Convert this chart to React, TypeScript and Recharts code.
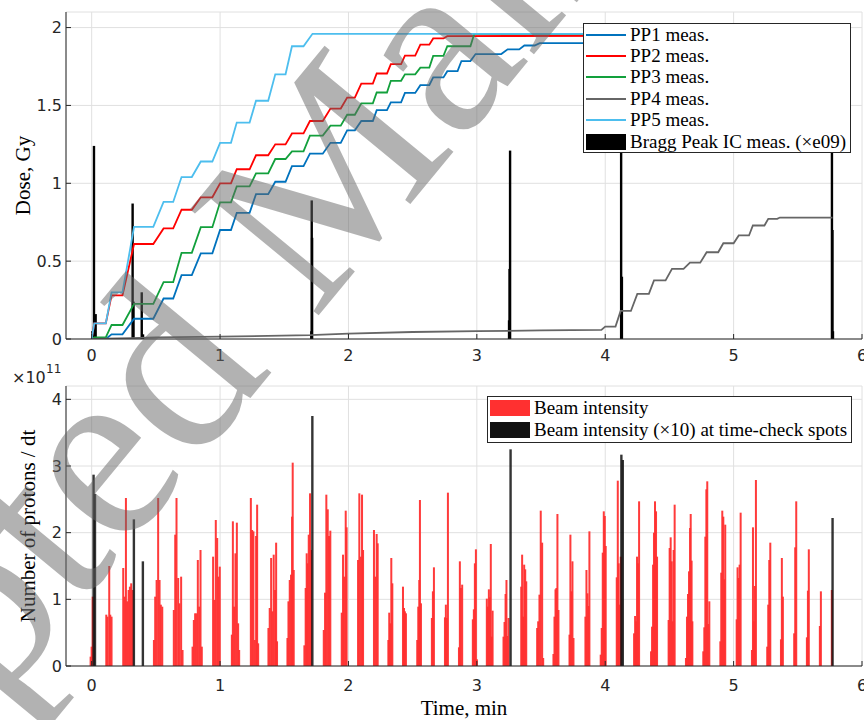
import React from 'react'
import { ComposedChart, Line, Bar, XAxis, YAxis, CartesianGrid, Legend } from 'recharts'

const SANS = '"DejaVu Sans", "Liberation Sans", sans-serif'
const SERIF = '"Liberation Serif", "Times New Roman", serif'
const INK = '#262626'
const GRID = '#e0e0e0'

const TIME_DOMAIN = [-0.2, 6]
const TIME_TICKS = [0, 1, 2, 3, 4, 5, 6]
const DOSE_DOMAIN = [0, 2.1]
const DOSE_TICKS = [0, 0.5, 1, 1.5, 2]
const BEAM_DOMAIN = [0, 4.2]
const BEAM_TICKS = [0, 1, 2, 3, 4]

// measured dose, [time (min), dose (Gy)] at the corners of each step
const pp1 = [
  [0, 0], [0.11, 0], [0.155, 0.03], [0.24, 0.03], [0.33, 0.13], [0.48, 0.13], [0.56, 0.26],
  [0.635, 0.26], [0.7, 0.41], [0.78, 0.41], [0.85, 0.55], [0.94, 0.55], [1.0, 0.7],
  [1.085, 0.7], [1.13, 0.81], [1.23, 0.81], [1.28, 0.93], [1.375, 0.93], [1.43, 1.01],
  [1.51, 1.01], [1.56, 1.11], [1.65, 1.11], [1.7, 1.19], [1.8, 1.19], [1.86, 1.26],
  [1.94, 1.26], [1.99, 1.34], [2.05, 1.34], [2.1, 1.4], [2.19, 1.4], [2.22, 1.47],
  [2.3, 1.47], [2.33, 1.52], [2.41, 1.52], [2.44, 1.58], [2.52, 1.58], [2.56, 1.63],
  [2.63, 1.63], [2.66, 1.68], [2.74, 1.68], [2.77, 1.72], [2.85, 1.72], [2.88, 1.785],
  [2.95, 1.785], [2.99, 1.83], [3.19, 1.83], [3.24, 1.86], [3.33, 1.86], [3.37, 1.885],
  [3.45, 1.885], [3.49, 1.9], [5.77, 1.9],
]
const pp2 = [
  [0, 0], [0.02, 0.1], [0.11, 0.1], [0.155, 0.28], [0.24, 0.28], [0.33, 0.61], [0.48, 0.61],
  [0.56, 0.71], [0.635, 0.71], [0.7, 0.83], [0.78, 0.83], [0.85, 0.91], [0.94, 0.91],
  [1.0, 1.0], [1.085, 1.0], [1.13, 1.09], [1.23, 1.09], [1.28, 1.18], [1.375, 1.18],
  [1.43, 1.25], [1.51, 1.25], [1.56, 1.32], [1.65, 1.32], [1.7, 1.4], [1.8, 1.4],
  [1.86, 1.48], [1.94, 1.48], [1.99, 1.55], [2.05, 1.55], [2.1, 1.64], [2.19, 1.64],
  [2.22, 1.705], [2.3, 1.705], [2.33, 1.765], [2.41, 1.765], [2.44, 1.82], [2.52, 1.82],
  [2.56, 1.89], [2.63, 1.89], [2.66, 1.93], [2.74, 1.93], [2.77, 1.945], [5.77, 1.95],
]
const pp3 = [
  [0, 0], [0.02, 0.01], [0.11, 0.01], [0.155, 0.09], [0.24, 0.09], [0.33, 0.226],
  [0.48, 0.226], [0.56, 0.365], [0.635, 0.365], [0.7, 0.553], [0.78, 0.553], [0.85, 0.718],
  [0.94, 0.718], [1.0, 0.878], [1.085, 0.878], [1.13, 0.98], [1.23, 0.98], [1.28, 1.064],
  [1.375, 1.064], [1.43, 1.156], [1.51, 1.156], [1.56, 1.205], [1.65, 1.205], [1.7, 1.306],
  [1.8, 1.306], [1.86, 1.37], [1.94, 1.37], [1.99, 1.44], [2.05, 1.44], [2.1, 1.513],
  [2.19, 1.513], [2.22, 1.583], [2.3, 1.583], [2.33, 1.658], [2.41, 1.658], [2.44, 1.7],
  [2.52, 1.7], [2.56, 1.743], [2.63, 1.743], [2.66, 1.818], [2.74, 1.818], [2.77, 1.88],
  [2.95, 1.88], [2.98, 1.96], [5.77, 1.96],
]
const pp4 = [
  [0, 0], [0.3, 0.005], [0.5, 0.01], [1.0, 0.015], [1.7, 0.025], [2.0, 0.035], [2.5, 0.045],
  [3.0, 0.05], [3.5, 0.055], [3.97, 0.058], [4.0, 0.08], [4.08, 0.08], [4.12, 0.18],
  [4.2, 0.18], [4.25, 0.29], [4.34, 0.29], [4.38, 0.376], [4.47, 0.376], [4.52, 0.45],
  [4.61, 0.45], [4.66, 0.49], [4.74, 0.49], [4.79, 0.557], [4.88, 0.557], [4.92, 0.615],
  [5.0, 0.615], [5.04, 0.665], [5.12, 0.665], [5.15, 0.729], [5.24, 0.729], [5.27, 0.772],
  [5.34, 0.772], [5.36, 0.78], [5.77, 0.78],
]
const pp5 = [
  [0, 0], [0.02, 0.1], [0.11, 0.1], [0.155, 0.3], [0.24, 0.3], [0.33, 0.72], [0.48, 0.72],
  [0.56, 0.88], [0.635, 0.88], [0.7, 1.04], [0.78, 1.04], [0.85, 1.14], [0.94, 1.14],
  [1.0, 1.26], [1.085, 1.26], [1.13, 1.39], [1.23, 1.39], [1.28, 1.53], [1.375, 1.53],
  [1.43, 1.7], [1.51, 1.7], [1.56, 1.88], [1.65, 1.88], [1.72, 1.96], [5.77, 1.96],
]

const DOSE_NAMES = ['PP1 meas.', 'PP2 meas.', 'PP3 meas.', 'PP4 meas.', 'PP5 meas.']
const DOSE_COLORS = ['#0072BD', '#FF0000', '#12A03C', '#666666', '#4DBEEE']
const DOSE_CURVES = [pp1, pp2, pp3, pp4, pp5]

// Bragg peak ionisation chamber (x e09)
const braggT = [0.005, 0.018, 0.031, 0.319, 0.326, 0.39, 0.4, 1.711, 1.714, 1.717, 3.251, 3.255, 3.259, 4.124, 4.13, 5.766, 5.77, 5.774]
const braggV = [0.05, 1.24, 0.16, 0.87, 0.24, 0.3, 0.03, 0.05, 0.89, 0.65, 0.12, 0.45, 1.21, 1.45, 0.4, 1.45, 0.7, 0.05]
const BRAGG_NAME = 'Bragg Peak IC meas. (\u00d7e09)'

// beam intensity, protons per dt in units of 1e11
const beamT = [
  -0.008, 0.0, 0.008,
  0.114, 0.124, 0.137, 0.145, 0.155,
  0.246, 0.257, 0.267, 0.277, 0.288, 0.298, 0.308, 0.319,
  0.485, 0.495, 0.506, 0.518, 0.529, 0.539, 0.55,
  0.64, 0.651, 0.661, 0.674, 0.684, 0.697, 0.708,
  0.786, 0.796, 0.806, 0.817, 0.827, 0.838, 0.848, 0.858,
  0.946, 0.957, 0.967, 0.978, 0.988, 0.998,
  1.092, 1.1, 1.11, 1.12, 1.131, 1.141, 1.149,
  1.24, 1.25, 1.26, 1.271, 1.281, 1.289, 1.297,
  1.377, 1.387, 1.398, 1.408, 1.418, 1.429, 1.437, 1.444,
  1.525, 1.533, 1.543, 1.553, 1.561, 1.566, 1.574,
  1.657, 1.667, 1.675, 1.683, 1.691, 1.701, 1.709,
  1.808, 1.818, 1.828, 1.839, 1.849, 1.859,
  1.948, 1.958, 1.968, 1.979, 1.986,
  2.075, 2.085, 2.095, 2.106, 2.114,
  2.199, 2.21, 2.22, 2.228,
  2.311, 2.318, 2.326, 2.334, 2.342,
  2.425, 2.433, 2.44, 2.448,
  2.536, 2.544, 2.552, 2.557, 2.565,
  2.65, 2.658, 2.666,
  2.752, 2.759, 2.767, 2.775,
  2.861, 2.868, 2.876, 2.886,
  2.969, 2.977, 2.985, 2.993, 3.001,
  3.078, 3.086, 3.094, 3.102, 3.109, 3.117, 3.123,
  3.208, 3.216, 3.224, 3.231, 3.239, 3.247,
  3.346, 3.353, 3.361, 3.369, 3.377, 3.385,
  3.47, 3.478, 3.488, 3.498, 3.509, 3.517,
  3.597, 3.605, 3.613, 3.62, 3.628, 3.636,
  3.722, 3.729, 3.737, 3.745, 3.753,
  3.846, 3.854, 3.862, 3.87, 3.877,
  3.965, 3.973, 3.981, 3.989, 3.997, 4.004,
  4.09, 4.098, 4.105, 4.113, 4.121,
  4.225, 4.233, 4.24, 4.248, 4.256, 4.264,
  4.357, 4.365, 4.373, 4.38, 4.388, 4.396, 4.404,
  4.494, 4.502, 4.51, 4.518, 4.526, 4.533, 4.541,
  4.629, 4.637, 4.645, 4.653, 4.661, 4.666, 4.673, 4.679,
  4.764, 4.772, 4.78, 4.788, 4.795, 4.803, 4.811,
  4.897, 4.904, 4.912, 4.92, 4.928, 4.935,
  5.024, 5.031, 5.039, 5.047, 5.055,
  5.143, 5.151, 5.158, 5.166, 5.174,
  5.262, 5.27, 5.278, 5.286,
  5.369, 5.376, 5.384,
  5.472, 5.48, 5.488,
  5.571, 5.579, 5.586,
  5.672, 5.68,
  5.765,
]
const beamN = [
  0.14, 0.29, 1.04,
  0.77, 0.74, 1.5, 0.77, 0.74,
  1.47, 1.04, 2.52, 0.97, 1.14, 1.19, 1.24, 1.14,
  0.39, 1.04, 1.29, 2.52, 1.29, 0.92, 0.89,
  0.84, 1.97, 2.52, 1.32, 0.94, 1.34, 0.24,
  0.29, 0.69, 0.79, 0.79, 1.59, 0.89, 1.74, 0.29,
  1.64, 0.99, 2.19, 1.92, 1.34, 1.49,
  0.47, 2.17, 0.89, 1.69, 2.15, 0.64, 0.24,
  2.52, 2.04, 2.02, 0.39, 1.95, 2.42, 0.34,
  0.57, 0.87, 1.62, 0.82, 1.67, 1.14, 1.85, 0.37,
  0.42, 0.97, 1.29, 1.37, 2.24, 3.05, 1.44,
  0.31, 1.17, 1.69, 1.54, 1.97, 2.59, 1.74,
  0.54, 1.1, 2.57, 2.35, 1.95, 2.03,
  0.8, 1.67, 1.34, 2.33, 2.08,
  1.59, 2.59, 1.64, 2.57, 1.74,
  2.04, 1.34, 1.98, 1.84,
  0.39, 0.8, 0.64, 1.62, 1.24,
  1.19, 0.87, 0.82, 0.79,
  0.39, 0.89, 1.29, 2.49, 0.94,
  0.72, 1.12, 1.48,
  0.73, 0.92, 0.72, 2.6,
  0.28, 1.57, 1.17, 1.22,
  0.7, 0.85, 1.54, 1.75, 0.1,
  1.01, 0.89, 1.15, 1.03, 1.83, 0.44, 0.83,
  0.44, 0.66, 1.08, 1.29, 0.45, 0.72,
  1.19, 1.67, 0.74, 1.52, 1.45, 1.27,
  0.57, 0.67, 1.07, 2.33, 1.85, 0.12,
  0.18, 0.74, 1.15, 1.17, 2.28, 0.84,
  0.47, 1.97, 1.12, 1.57, 0.42,
  0.74, 1.44, 1.09, 0.9, 2.02,
  0.17, 0.57, 1.7, 2.32, 2.25, 1.8,
  1.33, 2.78, 1.54, 0.92, 1.64,
  0.49, 0.75, 0.67, 1.64, 1.54, 2.47,
  0.22, 0.59, 1.52, 2.0, 2.47, 2.32, 1.64,
  0.69, 1.77, 1.93, 1.57, 0.67, 1.74, 2.42,
  0.12, 0.74, 1.08, 1.42, 2.07, 2.28, 1.58, 0.67,
  0.22, 0.58, 1.94, 2.65, 2.77, 0.63, 0.97,
  0.37, 1.4, 2.33, 2.24, 1.3, 2.12,
  0.7, 1.48, 1.32, 1.52, 2.3,
  0.24, 2.08, 0.67, 1.2, 2.79,
  0.29, 0.92, 1.59, 1.85,
  0.4, 1.62, 1.04,
  0.49, 1.78, 2.47,
  0.43, 1.13, 1.75,
  0.6, 1.12,
  1.14,
]
// beam intensity (x10) at the time-check spots
const checkT = [0.015, 0.026, 0.329, 0.399, 1.719, 3.263, 4.126, 4.137, 5.771]
const checkN = [2.87, 2.58, 2.2, 1.57, 3.75, 3.25, 3.17, 3.09, 2.22]
const BEAM_NAMES = ['Beam intensity', 'Beam intensity (\u00d710) at time-check spots']
const BEAM_COLORS = ['#FF3030', '#111111']

const braggRows = braggT.map((t, i) => ({ t, bragg: braggV[i] }))
const beamRows = [
  ...beamT.map((t, i) => ({ t, beam: beamN[i] })),
  ...checkT.map((t, i) => ({ t, check: checkN[i] })),
].sort((a, b) => a.t - b.t)

const tickStyle = { fill: INK, fontSize: 16, fontFamily: SANS }
const noLabel = () => <g />

// the bars sit on a numeric time axis, so draw each one as a thin spike at its centre
const spike = (w: number) => (p: any) => {
  if (!(p.height > 0)) return <g />
  return <rect x={p.x + p.width / 2 - w / 2} y={p.y} width={w} height={p.height} fill={p.fill} fillOpacity={p.fillOpacity} />
}

const yTitle = (text: string, dx: number) => (props: any) => {
  const vb = props.viewBox
  const x = vb.x + dx
  const y = vb.y + vb.height / 2
  return (
    <text x={x} y={y} transform={`rotate(-90 ${x} ${y})`} textAnchor='middle' fill='#000' fontFamily={SERIF} fontSize={21}>
      {text}
    </text>
  )
}

const xTitle = (text: string, dy: number) => (props: any) => {
  const vb = props.viewBox
  return (
    <text x={vb.x + vb.width / 2} y={vb.y + dy} textAnchor='middle' fill='#000' fontFamily={SERIF} fontSize={21}>
      {text}
    </text>
  )
}

function LegendBox({ names, colors, swatch, rowH }: { names: string[]; colors: string[]; swatch: string[]; rowH: number }) {
  return (
    <div style={{ background: '#fff', border: `1px solid ${INK}`, fontFamily: SERIF, fontSize: 19, color: '#000', whiteSpace: 'nowrap', paddingRight: 4 }}>
      {names.map((n, i) => (
        <div key={n} style={{ display: 'flex', alignItems: 'center', height: rowH }}>
          <span style={{ display: 'inline-block', width: 40, height: swatch[i] === 'rect' ? 16 : 2, background: colors[i], marginLeft: 2, marginRight: 4 }} />
          <span>{n}</span>
        </div>
      ))}
    </div>
  )
}

function DosePanel() {
  return (
    <ComposedChart width={864} height={372} data={braggRows} margin={{ top: 12, right: 2, bottom: 0, left: 0 }}>
      <CartesianGrid stroke={GRID} strokeWidth={1} />
      <XAxis dataKey='t' type='number' domain={TIME_DOMAIN} ticks={TIME_TICKS} allowDataOverflow interval={0}
        height={33} tickSize={-5} tickMargin={16} stroke={INK} tick={tickStyle} />
      <XAxis xAxisId='top' orientation='top' type='number' domain={TIME_DOMAIN} ticks={TIME_TICKS} allowDataOverflow
        height={0} tickSize={-5} stroke={INK} tick={noLabel} />
      <YAxis type='number' domain={DOSE_DOMAIN} ticks={DOSE_TICKS} allowDataOverflow interval={0} width={66}
        tickSize={-5} tickMargin={9} stroke={INK} tick={tickStyle}
        label={{ value: 'Dose, Gy', content: yTitle('Dose, Gy', 30) }} />
      <YAxis yAxisId='right' orientation='right' type='number' domain={DOSE_DOMAIN} ticks={DOSE_TICKS} allowDataOverflow
        width={0} tickSize={-5} stroke={INK} tick={noLabel} />
      {DOSE_CURVES.map((pts, i) => (
        <Line key={DOSE_NAMES[i]} name={DOSE_NAMES[i]} data={pts.map(([t, d]) => ({ t, dose: d }))} dataKey='dose'
          type='linear' stroke={DOSE_COLORS[i]} strokeWidth={1.8} dot={false} isAnimationActive={false} />
      ))}
      <Bar dataKey='bragg' name={BRAGG_NAME} fill='#000' barSize={2} shape={spike(2.4)} isAnimationActive={false} />
      <Legend layout='vertical' align='center' verticalAlign='middle'
        wrapperStyle={{ position: 'absolute', left: 583, top: 23, width: 'auto', height: 'auto' }}
        content={() => (
          <LegendBox names={[...DOSE_NAMES, BRAGG_NAME]} colors={[...DOSE_COLORS, '#000']}
            swatch={['line', 'line', 'line', 'line', 'line', 'rect']} rowH={21.4} />
        )} />
    </ComposedChart>
  )
}

function BeamPanel() {
  return (
    <ComposedChart width={864} height={360} data={beamRows} margin={{ top: 26, right: 2, bottom: 0, left: 0 }}>
      <CartesianGrid stroke={GRID} strokeWidth={1} />
      <XAxis dataKey='t' type='number' domain={TIME_DOMAIN} ticks={TIME_TICKS} allowDataOverflow interval={0}
        height={54} tickSize={-5} tickMargin={19} stroke={INK} tick={tickStyle}
        label={{ value: 'Time, min', content: xTitle('Time, min', 49) }} />
      <XAxis xAxisId='top' orientation='top' type='number' domain={TIME_DOMAIN} ticks={TIME_TICKS} allowDataOverflow
        height={0} tickSize={-5} stroke={INK} tick={noLabel} />
      <YAxis type='number' domain={BEAM_DOMAIN} ticks={BEAM_TICKS} allowDataOverflow interval={0} width={66}
        tickSize={-5} tickMargin={9} stroke={INK} tick={tickStyle}
        label={{ value: 'Number of protons / dt', content: yTitle('Number of protons / dt', 35) }} />
      <YAxis yAxisId='right' orientation='right' type='number' domain={BEAM_DOMAIN} ticks={BEAM_TICKS} allowDataOverflow
        width={0} tickSize={-5} stroke={INK} tick={noLabel} />
      <Bar dataKey='beam' name={BEAM_NAMES[0]} stackId='n' fill={BEAM_COLORS[0]} fillOpacity={0.95} barSize={2}
        shape={spike(2)} isAnimationActive={false} />
      <Bar dataKey='check' name={BEAM_NAMES[1]} stackId='n' fill={BEAM_COLORS[1]} fillOpacity={0.85} barSize={2}
        shape={spike(2.4)} isAnimationActive={false} />
      <Legend layout='vertical' align='center' verticalAlign='middle'
        wrapperStyle={{ position: 'absolute', left: 487, top: 36, width: 'auto', height: 'auto' }}
        content={() => <LegendBox names={BEAM_NAMES} colors={BEAM_COLORS} swatch={['rect', 'rect']} rowH={22.3} />} />
    </ComposedChart>
  )
}

export default function App() {
  return (
    <div style={{ position: 'absolute', left: 0, top: 0, width: 864, height: 720, background: '#fff', overflow: 'hidden' }}>
      <div style={{ position: 'absolute', left: 0, top: 0 }}>
        <DosePanel />
      </div>
      <div style={{ position: 'absolute', left: 0, top: 360 }}>
        <BeamPanel />
      </div>
      <svg width={864} height={720} style={{ position: 'absolute', left: 0, top: 0, pointerEvents: 'none' }}>
        <text x={12} y={383} fill={INK} fontFamily={SANS} fontSize={16}>{'\u00d710'}</text>
        <text x={46} y={373} fill={INK} fontFamily={SANS} fontSize={12}>11</text>
        <text x={0} y={0} transform='translate(-339 1113) rotate(-50.5)' fill='#666' fillOpacity={0.5}
          fontFamily={SERIF} fontSize={255}>Accepted Manuscript</text>
      </svg>
    </div>
  )
}
